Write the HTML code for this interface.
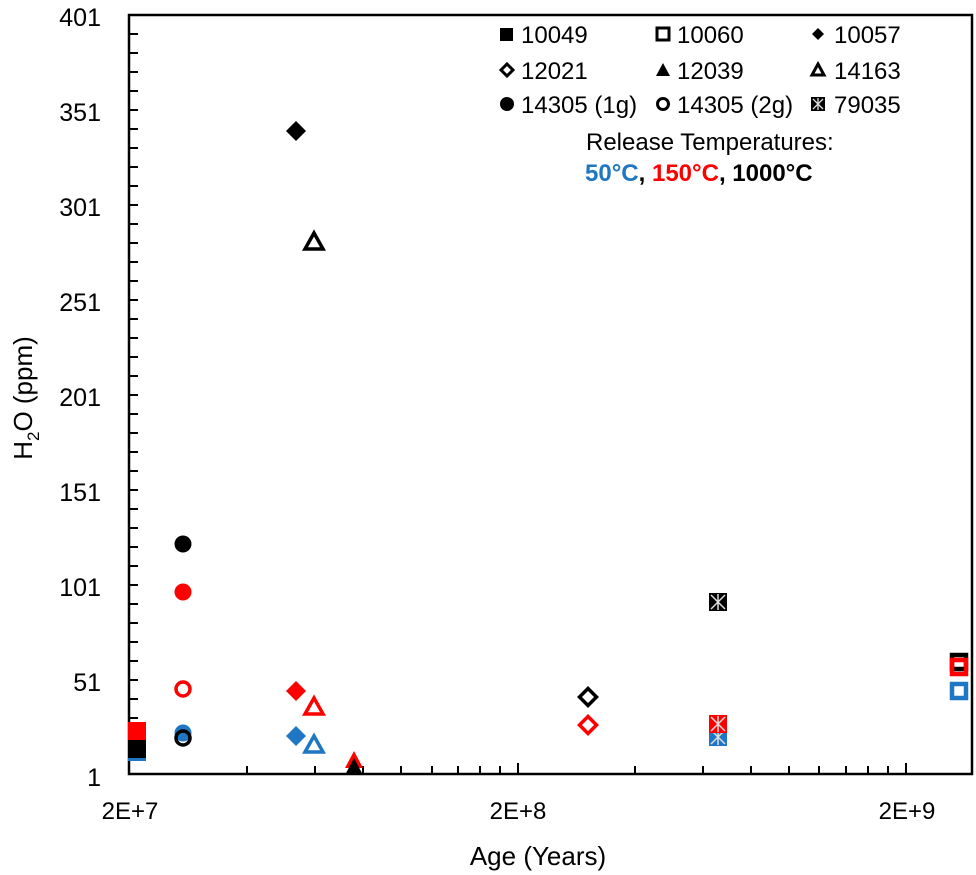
<!DOCTYPE html>
<html><head><meta charset="utf-8"><style>
html,body{margin:0;padding:0;background:#fff}
svg{display:block}
text{font-family:"Liberation Sans",sans-serif}
</style></head><body>
<svg width="976" height="875" xmlns="http://www.w3.org/2000/svg">
<defs>
<g id="sqF"><rect x="-9" y="-9" width="18" height="18"/></g>
<g id="sqO"><rect x="-7" y="-7" width="14" height="14" fill="none" stroke-width="4.5"/></g>
<g id="diF"><polygon points="0,-10 10,0 0,10 -10,0"/></g>
<g id="diO"><polygon points="0,-8.5 8.5,0 0,8.5 -8.5,0" fill="none" stroke-width="3.5"/></g>
<g id="trF"><polygon points="0,-10 9,7 -9,7"/></g>
<g id="trO"><polygon points="0,-9 9,7 -9,7" fill="none" stroke-width="3.5" stroke-linejoin="miter"/></g>
<g id="ciF"><circle r="8.5"/></g>
<g id="ciO"><circle r="7" fill="none" stroke-width="3.5"/></g>
<g id="xs"><rect x="-9" y="-9" width="18" height="18"/><path d="M-7,-7L7,7M7,-7L-7,7M0,-8V8" stroke="#ddd" stroke-width="1.5"/></g>
</defs>
<rect x="129" y="15" width="843" height="759" fill="none" stroke="#000" stroke-width="2.5"/>
<g stroke="#000" stroke-width="2">
<path d="M129,34h9M129,53h9M129,72h9M129,91h9M129,110h9M129,129h9M129,148h9M129,167h9M129,186h9M129,205h9M129,224h9M129,243h9M129,262h9M129,281h9M129,300h9M129,319h9M129,338h9M129,357h9M129,376h9M129,395h9M129,414h9M129,433h9M129,452h9M129,471h9M129,490h9M129,509h9M129,528h9M129,547h9M129,566h9M129,585h9M129,604h9M129,623h9M129,642h9M129,661h9M129,680h9M129,699h9M129,718h9M129,737h9M129,756h9"/>
<path d="M247,774v-8M315,774v-8M363,774v-8M401,774v-8M432,774v-8M458,774v-8M480,774v-8M500,774v-8M518,774v-11M635,774v-8M703,774v-8M751,774v-8M789,774v-8M819,774v-8M846,774v-8M868,774v-8M888,774v-8M906,774v-11"/>
</g>
<g font-size="25" text-anchor="end" fill="#000">
<text x="101" y="26">401</text><text x="101" y="121">351</text><text x="101" y="216">301</text>
<text x="101" y="311">251</text><text x="101" y="406">201</text><text x="101" y="501">151</text>
<text x="101" y="596">101</text><text x="101" y="691">51</text><text x="101" y="786">1</text>
</g>
<g font-size="24" text-anchor="middle">
<text x="130" y="819">2E+7</text><text x="518" y="819">2E+8</text><text x="907" y="819">2E+9</text>
<text x="538" y="865" font-size="26">Age (Years)</text>
</g>
<text transform="translate(32,398) rotate(-90)" font-size="26" text-anchor="middle">H<tspan font-size="17" dy="7">2</tspan><tspan dy="-7">O (ppm)</tspan></text>

<g>
<use href="#sqF" x="137" y="752" fill="#1f77c4"/>
<use href="#sqF" x="137" y="731" fill="#f00"/>
<use href="#sqF" x="137" y="749" fill="#000"/>
<use href="#ciF" x="183" y="733" fill="#1f77c4"/>
<use href="#ciO" x="183" y="738" stroke="#000"/>
<use href="#ciO" x="183" y="689" stroke="#f00"/>
<use href="#ciF" x="183" y="592" fill="#f00"/>
<use href="#ciF" x="183" y="544" fill="#000"/>
<use href="#diF" x="296" y="131" fill="#000"/>
<use href="#diF" x="296" y="691" fill="#f00"/>
<use href="#diF" x="296" y="736" fill="#1f77c4"/>
<use href="#trO" x="314" y="242" stroke="#000"/>
<use href="#trO" x="314" y="707" stroke="#f00"/>
<use href="#trO" x="314" y="745" stroke="#1f77c4"/>
<use href="#trF" x="354" y="761" fill="#f00"/>
<use href="#trF" x="354" y="768" fill="#000"/>
<use href="#diO" x="588" y="697" stroke="#000"/>
<use href="#diO" x="588" y="725" stroke="#f00"/>
<use href="#xs" x="718" y="602" fill="#000"/>
<use href="#xs" x="718" y="737" fill="#1f77c4"/>
<use href="#xs" x="718" y="724" fill="#f00"/>
<use href="#sqO" x="959" y="691" stroke="#1f77c4"/>
<use href="#sqO" x="959" y="662" stroke="#000"/>
<use href="#sqO" x="959" y="667" stroke="#f00"/>
</g>

<g font-size="24" fill="#000">
<rect x="500" y="28" width="13" height="13"/>
<text x="521" y="43">10049</text>
<rect x="657" y="28" width="12" height="12" fill="none" stroke="#000" stroke-width="3"/>
<text x="677" y="43">10060</text>
<polygon points="818,28 824,34 818,40 812,34"/>
<text x="834" y="43">10057</text>
<polygon points="507,64 513,70 507,76 501,70" fill="none" stroke="#000" stroke-width="3"/>
<text x="521" y="79">12021</text>
<polygon points="663,63 670,76 656,76"/>
<text x="677" y="79">12039</text>
<polygon points="818,64 824,75 812,75" fill="none" stroke="#000" stroke-width="3"/>
<text x="834" y="79">14163</text>
<circle cx="507" cy="104" r="7"/>
<text x="521" y="113">14305 (1g)</text>
<circle cx="663" cy="104" r="5.5" fill="none" stroke="#000" stroke-width="3"/>
<text x="677" y="113">14305 (2g)</text>
<rect x="811" y="97" width="14" height="14"/><path d="M813,99L823,109M823,99L813,109M818,98V110" stroke="#ddd" stroke-width="1.3"/>
<text x="834" y="113">79035</text>
<text x="586" y="150">Release Temperatures:</text>
<text x="585" y="181" font-weight="bold"><tspan fill="#1f77c4">50°C</tspan>, <tspan fill="#f00">150°C</tspan>, 1000°C</text>
</g>
</svg>
</body></html>
